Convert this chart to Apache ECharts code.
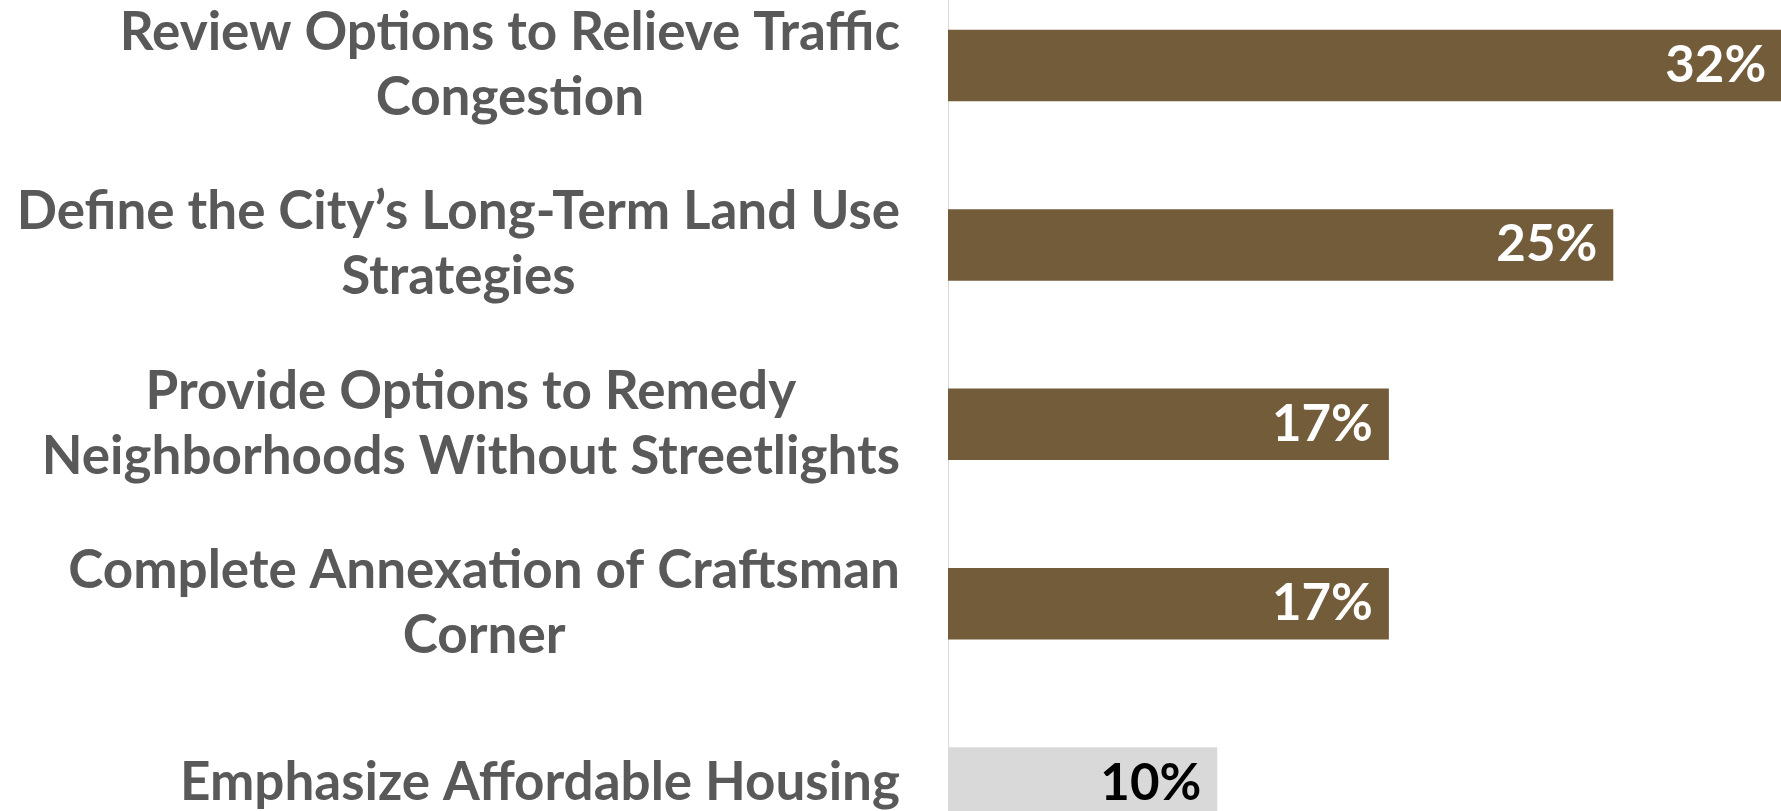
<!DOCTYPE html>
<html><head><meta charset="utf-8">
<script src="https://cdn.jsdelivr.net/npm/echarts@6/dist/echarts.min.js"></script>
<style>html,body{margin:0;padding:0;background:#fff}#c{width:1781px;height:811px}</style>
</head><body><div id="c"></div>
<script>
const categories = [
  "Review Options to Relieve Traffic\nCongestion",
  "Define the City\u2019s Long-Term Land Use\nStrategies",
  "Provide Options to Remedy\nNeighborhoods Without Streetlights",
  "Complete Annexation of Craftsman\nCorner",
  "Emphasize Affordable Housing"
];
const values = [31.6, 25.2, 16.7, 16.7, 10.2];
const highlight = [true, true, true, true, false];

const chart = echarts.init(document.getElementById('c'), null, {renderer: 'canvas'});
const FONT = 'Lato';
chart.setOption({
  animation: false,
  grid: {left: 948, top: -24.2, height: 897, width: 35 * 26.4, containLabel: false, outerBoundsMode: 'none'},
  xAxis: {type: 'value', min: 0, max: 35, show: false},
  yAxis: {
    type: 'category', data: categories, inverse: true,
    axisLine: {show: true, lineStyle: {color: '#d9d9d9', width: 1}},
    axisTick: {show: false},
    axisLabel: {
      margin: 48, align: 'right',
      color: '#595959', fontFamily: FONT, fontWeight: 'bold', fontSize: 53, lineHeight: 65,
      formatter: v => v.split('\n').map(l => '{c|' + l + '}').join('\n'),
      rich: {c: {align: 'center', color: '#595959', fontFamily: FONT, fontWeight: 'bold', fontSize: 53, lineHeight: 65}}
    }
  },
  series: [{
    type: 'bar', barWidth: 71.5, clip: false,
    data: values.map((v, i) => ({
      value: v,
      itemStyle: {color: highlight[i] ? '#725C3A' : '#D9D9D9'},
      label: {color: highlight[i] ? '#ffffff' : '#000000'}
    })),
    label: {
      show: true, position: 'insideRight', distance: 16,
      fontFamily: FONT, fontSize: 51, fontWeight: 'bold',
      formatter: p => Math.round(p.value) + '%'
    }
  }]
});
</script></body></html>
